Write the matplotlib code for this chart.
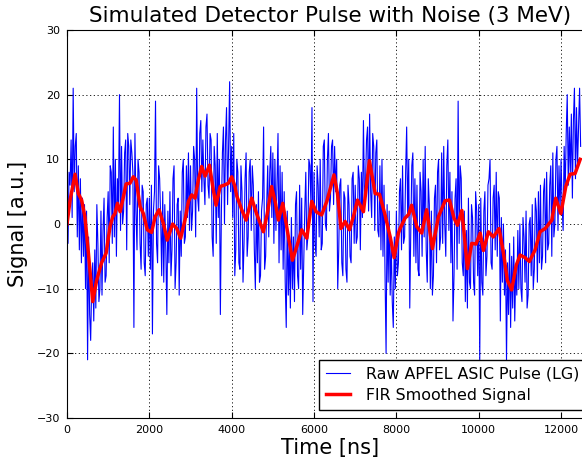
import matplotlib
matplotlib.use("Agg")
import matplotlib.pyplot as plt
import numpy as np

# raw pulse, one sample every 25 ns
raw_dt = 25
raw_signal = [
    2, -3, 8, 6, 13, 1, 21, 5, 12, 14, -2, 9, -4, 7, -6, 4, -5, 3, -10, 2,
    -21, -2, -14, -18, -9, -6, -15, -4, -13, 3, -3, -12, -10, 2, -11, -1, 4, -9, -8, 1,
    5, -6, 9, 8, -3, 15, -2, 10, -5, 7, 3, 20, -1, 12, 0, 2, 11, 13, -4, 14,
    12, 3, 13, 11, 8, -16, 14, 2, -4, 10, 8, -3, -7, 6, 5, -6, -8, 3, 4, -5,
    4, -7, 6, -17, 2, 5, 19, -3, -6, 9, 7, 1, -8, 5, -9, 3, -4, -14, 2, -6,
    5, -8, -4, 7, 9, -10, -6, 3, 4, -11, 2, -5, 8, 10, -3, -2, 9, 1, 11, -1,
    9, -1, 2, 12, 10, -2, 21, 4, 2, 14, 16, 5, 13, 7, 3, 15, 17, 6, 4, 14,
    13, -2, -5, 12, 9, -3, 14, 1, 10, -14, 2, 11, 15, 0, 13, 18, 3, 12, 22, 5,
    12, 1, 14, -8, -4, 10, 8, -6, -7, 9, 5, -9, -3, 7, 11, -5, -2, 8, 10, -1,
    9, 6, -4, -10, 3, -6, 5, -9, -8, 2, 4, 15, -7, -5, 3, 9, -2, 8, 12, 1,
    11, -3, 10, -1, 6, 14, -6, 9, -4, 8, -7, 5, -9, -16, 2, -11, -3, -13, 1, -10,
    -2, -12, 3, 5, -8, -10, 6, -7, 4, -14, -6, 2, 8, -4, -2, 10, 9, 3, 18, -12,
    8, -3, -5, 9, 6, -2, 10, -4, -3, 12, 13, 0, -1, 10, 14, 2, 4, 12, 13, 3,
    12, 5, 10, -10, -4, 6, 7, -6, -8, 5, 4, -7, -9, 6, 3, -5, -6, 7, 8, -3,
    6, -3, -2, 9, 7, -4, 8, 1, 16, 4, 6, 13, 15, 2, 17, 5, 1, 14, 12, -1,
    11, 13, -1, -2, 9, -4, 10, -5, 6, -8, -20, 3, -9, 2, -11, -3, -12, -16, -2, -10,
    2, -8, -6, 5, 7, -4, 9, -3, -2, 8, 15, 1, 10, -13, -1, 9, 11, -5, 7, -6,
    6, -7, -8, 8, 5, -5, 10, -2, 12, -4, -9, 7, 3, -10, 2, -11, -8, 4, 6, -6,
    8, 10, -4, -2, 11, -3, 12, 0, -5, 9, 13, -1, 8, -6, 5, -15, -8, 4, 7, -7,
    19, -3, 9, 7, -6, -8, 2, -12, -1, -13, 4, -9, -10, 3, 1, -9, -11, 5, 2, -8,
    3, -21, 4, -9, -11, 2, 5, -8, -5, 6, 7, 10, -6, -7, 4, 6, -4, 8, -5, 5,
    4, -15, 1, -9, 0, -11, -4, -21, -6, -14, -3, -16, -5, -13, -2, -15, -7, -11, -1, -10,
    0, -10, -12, 1, -2, -9, 2, -13, -11, 0, 1, -8, 3, -10, -7, 4, 2, -9, 5, -6,
    6, -7, -5, 5, 7, -6, 8, -4, -3, 6, 9, -5, 11, -2, 0, 10, 12, -1, 9, 2,
    10, 3, -1, 12, 5, 14, 20, 6, 15, 8, 17, 4, 16, 21, 7, 18, 9, 15, 21, 12,
]
raw_time = np.arange(len(raw_signal)) * raw_dt

# FIR smoothed signal
fir_time = [0, 75, 195, 275, 355, 435, 520, 625, 720, 840, 950, 1045, 1110, 1165,
            1225, 1290, 1370, 1435, 1530, 1610, 1680, 1775, 1855, 1950, 2055, 2140,
            2235, 2340, 2435, 2565, 2665, 2760, 2865, 2950, 3030, 3110, 3190, 3270,
            3355, 3460, 3540, 3620, 3720, 3815, 3920, 4000, 4080, 4120, 4205, 4245,
            4350, 4485, 4605, 4770, 4865, 4970, 5055, 5135, 5240, 5335, 5475, 5580,
            5700, 5825, 5945, 6050, 6185, 6310, 6485, 6570, 6655, 6755, 6860, 6955,
            7055, 7200, 7345, 7485, 7590, 7725, 7850, 7945, 8050, 8090, 8210, 8300,
            8370, 8495, 8615, 8735, 8875, 9020, 9185, 9290, 9400, 9485, 9590, 9645,
            9725, 9830, 9935, 10035, 10115, 10235, 10355, 10495, 10600, 10695, 10800,
            10910, 11005, 11125, 11230, 11370, 11490, 11615, 11775, 11870, 11995,
            12115, 12220, 12340, 12465]
fir_signal = [0, 3.7, 7.7, 4.7, 3.7, 1.1, -4.5, -12, -8.7, -6, -4.5, -0.4, 1.1, 1.6,
              3.2, 1.9, 4.2, 6.2, 6.3, 7.3, 6.8, 2.7, 1.6, -0.9, -1.3, 1.1,
              2.2, 0.1, -2.5, 0, -0.7, -2.2, 0.6, 3.5, 4.5, 4.0, 6.8, 8.9,
              7.4, 9.1, 5.8, 2.9, 5.8, 6.0, 6.3, 7.3, 5.8, 4.4, 2.9, 2.2,
              0.6, 4.0, 1.6, -1.2, 1.6, 5.8, 3.5, 0.6, 3.2, -0.4, -5.6, -3.5,
              -0.9, -2.2, 3.5, 1.9, 1.4, 3.5, 7.6, 4.7, -0.7, 0.4, -0.9, 1.1,
              3.7, 1.9, 9.8, 4.7, 4.6, 1.4, -2.0, -5.2, -1.4, -0.7, 0.9, 1.5,
              2.9, -0.4, -1.4, 2.2, -3.8, 1.1, 3.6, 3.7, 0.9, -0.2, 2.1, -1.4,
              -6.9, -3.0, -3.1, -1.4, -4.1, -1.2, -2.0, -0.7, -4.5, -8.7, -10.2,
              -6.4, -4.8, -5.2, -5.8, -4.0, -1.2, -0.7, 0.6, 4.0, 1.6,
              5.8, 7.7, 7.8, 10.0]

fig = plt.figure(figsize=(5.82, 4.62), dpi=100)
ax = fig.add_axes([67 / 582, 44 / 462, 527 / 582, 388 / 462])

ax.plot(raw_time, raw_signal, color='b', lw=0.8, label='Raw APFEL ASIC Pulse (LG)')
ax.plot(fir_time, fir_signal, color='r', lw=2.5, label='FIR Smoothed Signal')

ax.set_xlim(0, 12800)
ax.set_ylim(-30, 30)
ax.set_xticks([0, 2000, 4000, 6000, 8000, 10000, 12000])
ax.set_yticks([-30, -20, -10, 0, 10, 20, 30])
ax.tick_params(direction='in', top=True, right=True, labelsize=8, length=4, pad=5)
ax.grid(True, color='k', linestyle=(0, (1.5, 3)), linewidth=0.6)

ax.set_title('Simulated Detector Pulse with Noise (3 MeV)', fontsize=15.5, pad=6)
ax.set_xlabel('Time [ns]', fontsize=15, labelpad=2)
ax.set_ylabel('Signal [a.u.]', fontsize=15, labelpad=6)

leg = ax.legend(loc='lower right', fontsize=11.4, fancybox=False, framealpha=1,
                edgecolor='k', handlelength=1.5, handletextpad=1.0, borderpad=0.45,
                labelspacing=0.4)
leg.get_frame().set_linewidth(1.0)

plt.savefig('out.png', dpi=100)
